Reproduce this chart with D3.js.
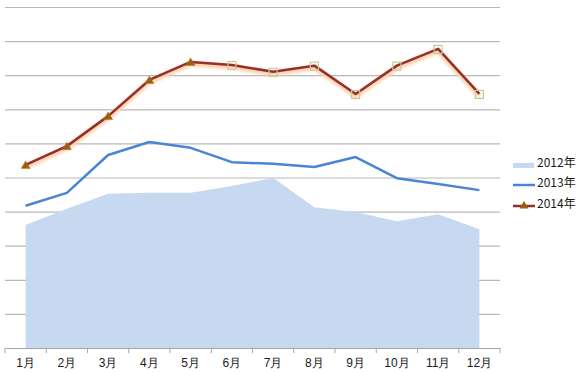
<!DOCTYPE html>
<html>
<head>
<meta charset="utf-8">
<script src="https://cdn.jsdelivr.net/npm/d3@7"></script>
<style>
  body { margin: 0; background: #fff; }
  svg { display: block; font-family: "Noto Sans CJK SC", "DejaVu Sans", sans-serif; }
</style>
</head>
<body>
<svg id="chart" width="580" height="373"></svg>
<script>
const months = ["1月","2月","3月","4月","5月","6月","7月","8月","9月","10月","11月","12月"];
const seriesNames = ["2012年","2013年","2014年"];
const values2012 = [3.61, 4.08, 4.52, 4.55, 4.55, 4.75, 4.99, 4.13, 3.99, 3.72, 3.92, 3.48];
const values2013 = [4.17, 4.55, 5.66, 6.04, 5.87, 5.45, 5.40, 5.31, 5.60, 4.98, 4.81, 4.63];
const values2014 = [5.37, 5.92, 6.80, 7.86, 8.39, 8.30, 8.10, 8.28, 7.45, 8.28, 8.77, 7.45];
const yTicks = d3.range(0, 11);

var svg = d3.select("#chart");
var plotLeft = 5, plotRight = 500, plotTop = 7, plotBottom = 348;

var x = d3.scaleBand().domain(months).range([plotLeft, plotRight]);
var y = d3.scaleLinear().domain([0, 10]).range([plotBottom, plotTop]);
var cx = function (d, i) { return x(months[i]) + x.bandwidth() / 2; };

// glow filter for the 2014 line
var defs = svg.append("defs");
var f = defs.append("filter").attr("id", "glow")
  .attr("x", "-5%").attr("y", "-20%").attr("width", "110%").attr("height", "140%");
f.append("feGaussianBlur").attr("stdDeviation", 1.6);

// gridlines
svg.append("g").selectAll("line")
  .data(yTicks.filter(function (t) { return t > 0; }))
  .join("line")
  .attr("x1", plotLeft).attr("x2", plotRight)
  .attr("y1", function (d) { return y(d) + 0.5; })
  .attr("y2", function (d) { return y(d) + 0.5; })
  .attr("stroke", "#b8b8b8")
  .attr("stroke-width", 1.2);

// 2012 area
svg.append("path")
  .datum(values2012)
  .attr("fill", "#c6d9f1")
  .attr("d", d3.area().x(cx).y0(y(0)).y1(function (d) { return y(d); }));

// x axis
var xAxis = svg.append("g")
  .attr("transform", "translate(0," + plotBottom + ")")
  .call(d3.axisBottom(x).tickSize(0).tickPadding(10));
xAxis.select(".domain").attr("stroke", "#a6a6a6");
xAxis.selectAll("text").attr("font-size", 12).attr("fill", "#1a1a1a");
xAxis.selectAll(".tick line").remove();
xAxis.selectAll("line.sep")
  .data(d3.range(13))
  .join("line")
  .attr("class", "sep")
  .attr("x1", function (i) { return plotLeft + i * x.step(); })
  .attr("x2", function (i) { return plotLeft + i * x.step(); })
  .attr("y1", 0).attr("y2", 5)
  .attr("stroke", "#a6a6a6");

// 2013 line
svg.append("path")
  .datum(values2013)
  .attr("fill", "none")
  .attr("stroke", "#4a85d4")
  .attr("stroke-width", 2.5)
  .attr("stroke-linejoin", "round")
  .attr("d", d3.line().x(cx).y(function (d) { return y(d); }));

// 2014 line with glow
var line14 = d3.line().x(cx).y(function (d) { return y(d); });
svg.append("path")
  .datum(values2014)
  .attr("fill", "none")
  .attr("stroke", "#fcd2ad")
  .attr("stroke-width", 5)
  .attr("transform", "translate(0,2)")
  .attr("filter", "url(#glow)")
  .attr("d", line14);
svg.append("path")
  .datum(values2014)
  .attr("fill", "none")
  .attr("stroke", "#93302e")
  .attr("stroke-width", 2.5)
  .attr("stroke-linejoin", "round")
  .attr("d", line14);

// markers: triangles for first five, hollow squares after
var marks = svg.append("g");
marks.selectAll("path.tri")
  .data(values2014.slice(0, 5))
  .join("path")
  .attr("class", "tri")
  .attr("transform", function (d, i) { return "translate(" + cx(d, i) + "," + y(d) + ")"; })
  .attr("d", "M0,-4L4.5,3.5L-4.5,3.5Z")
  .attr("fill", "#9a5f0c")
  .attr("stroke", "#b07a2a")
  .attr("stroke-width", 0.5);
marks.selectAll("rect.sq")
  .data(values2014.slice(5))
  .join("rect")
  .attr("class", "sq")
  .attr("x", function (d, i) { return cx(d, i + 5) - 4; })
  .attr("y", function (d) { return y(d) - 3.5; })
  .attr("width", 8).attr("height", 8)
  .attr("fill", "none")
  .attr("stroke", "#c7c89a")
  .attr("stroke-width", 1.2);

// legend
var lg = svg.append("g").attr("transform", "translate(513,0)");
var ly = [165, 185, 206];
lg.append("rect").attr("x", 0).attr("y", ly[0] - 2).attr("width", 21).attr("height", 5).attr("fill", "#c6d9f1");
lg.append("line").attr("x1", 0).attr("x2", 22).attr("y1", ly[1]).attr("y2", ly[1])
  .attr("stroke", "#4a85d4").attr("stroke-width", 2.5);
lg.append("line").attr("x1", 0).attr("x2", 22).attr("y1", ly[2]).attr("y2", ly[2])
  .attr("stroke", "#93302e").attr("stroke-width", 2.5);
lg.append("path").attr("transform", "translate(11," + (ly[2] - 1) + ")")
  .attr("d", "M0,-4L4.5,3.5L-4.5,3.5Z").attr("fill", "#9a5f0c");
lg.selectAll("text")
  .data(seriesNames)
  .join("text")
  .attr("x", 24)
  .attr("y", function (d, i) { return ly[i] - 2; })
  .attr("dy", "0.35em")
  .attr("font-size", 12)
  .attr("fill", "#1a1a1a")
  .text(function (d) { return d; });
</script>
</body>
</html>
